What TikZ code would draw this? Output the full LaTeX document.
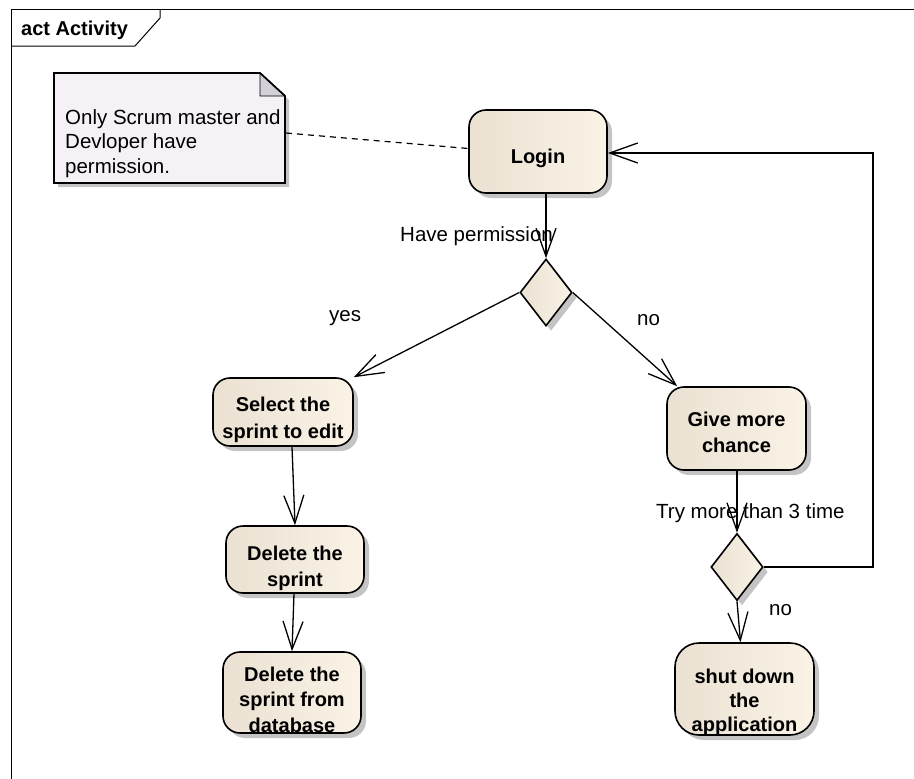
\documentclass[tikz,border=0pt]{standalone}
\usepackage{fontspec}
\setmainfont{Liberation Sans}
\usetikzlibrary{arrows.meta,shapes.geometric,shadows,calc}

\definecolor{actleft}{RGB}{234,225,210}
\definecolor{actright}{RGB}{250,243,230}
\definecolor{notefill}{RGB}{245,241,246}
\definecolor{foldfill}{RGB}{212,208,216}
\definecolor{shadowgray}{RGB}{196,196,196}

% lower a block of centred lines inside its node, keeping the node size
\newcommand\acttext[3]{\raisebox{-#1}[\height][\depth]{\fontsize{20}{#2}\selectfont\begin{tabular}{@{}c@{}}#3\end{tabular}}}

\tikzset{
  action/.style={rectangle, rounded corners=17pt, draw=black, line width=1.6pt,
    left color=actleft, right color=actright, inner sep=0pt,
    drop shadow={shadow xshift=5pt, shadow yshift=-5pt, fill=shadowgray, opacity=1},
    font=\bfseries},
  decision/.style={diamond, draw=black, line width=1.6pt, inner sep=0pt,
    left color=actleft, right color=actright,
    minimum width=52pt, minimum height=67pt,
    drop shadow={shadow xshift=5pt, shadow yshift=-5pt, fill=shadowgray, opacity=1}},
  flow/.style={line width=1.3pt, -{Straight Barb[length=28pt, width=20pt, line width=1.3pt]}},
  guard/.style={font=\fontsize{20.5}{24}\selectfont, inner sep=0pt, anchor=base west},
}

\begin{document}
\begin{tikzpicture}[x=1pt, y=-1pt]
\useasboundingbox (0,0) rectangle (914,779);

% diagram frame and its name tab
\draw[line width=1pt] (914,9) -- (11,9) -- (11,779);
\draw[line width=1pt] (11,46) -- (135,46) -- (160,18) -- (160,9);
\node[anchor=base west, inner sep=0pt, font=\fontsize{20}{24}\selectfont\bfseries] (title) at (21,35) {act Activity};

% comment note with folded corner
\fill[shadowgray] (58,77) -- (264,77) -- (289,100) -- (289,187) -- (58,187) -- cycle;
\draw[line width=1.6pt, fill=notefill] (54,73) -- (260,73) -- (285,96) -- (285,183) -- (54,183) -- cycle;
\draw[line width=0.8pt, fill=foldfill] (260,73) -- (260,96) -- (285,96) -- cycle;
\draw[line width=1.6pt] (260,73) -- (285,96);
\node[anchor=base west, inner sep=0pt, font=\fontsize{20.5}{24.5}\selectfont] (note) at (65,124.3)
  {\begin{tabular}[t]{@{}l@{}}Only Scrum master and\\Devloper have\\permission.\end{tabular}};
\coordinate (noteanchor) at (286,133);

% actions
\node[action, minimum width=138pt, minimum height=83pt] (login) at (538,151.5)
  {\acttext{6.9pt}{24}{Login}};
\node[action, minimum width=140pt, minimum height=68pt] (sel) at (283,412)
  {\acttext{7.7pt}{27.5}{Select the\\sprint to edit}};
\node[action, minimum width=138pt, minimum height=67pt] (dels) at (295,559.5)
  {\acttext{8.5pt}{26}{Delete the\\sprint}};
\node[action, minimum width=138pt, minimum height=81pt] (deldb) at (292,692.5)
  {\acttext{9.1pt}{25.5}{Delete the\\sprint from\\database}};
\node[action, minimum width=139pt, minimum height=83pt] (give) at (736.5,428.5)
  {\acttext{6.2pt}{26}{Give more\\chance}};
\node[action, rounded corners=24pt, minimum width=139pt, minimum height=92pt] (shut) at (744.5,689)
  {\acttext{13.9pt}{24}{shut down\\the\\application}};

% decisions
\node[decision] (d1) at (546,292.5) {};
\node[decision] (d2) at (737,567) {};

% loop-back corner
\coordinate (loopx) at (873,0);

% connectors
\draw[line width=1.2pt, dash pattern=on 6pt off 5pt] (noteanchor) -- ([yshift=3pt]login.west);
\draw[flow] (login.south -| d1.north) -- (d1.north);
\draw[flow] (d1.west) -- (sel.north east);
\draw[flow] (d1.east) -- ([xshift=11pt]give.north west);
\draw[flow] ([xshift=9pt]sel.south) -- (dels.north);
\draw[flow] ([xshift=-1pt]dels.south) -- (deldb.north);
\draw[flow] (give.south -| d2.north) -- (d2.north);
\draw[flow] (d2.south) -- ([xshift=-4pt]shut.north);
\draw[flow] (d2.east) -- (d2.east -| loopx) |- ([yshift=-1.5pt]login.east);

% guards
\node[guard] (lblperm) at (400,241.7) {Have permission};
\node[guard] (lblyes) at (329,321.7) {yes};
\node[guard] (lblno) at (637,325) {no};
\node[guard] (lbltry) at (656,518.3) {Try more than 3 time};
\node[guard] (lblno2) at (769,615.7) {no};
\end{tikzpicture}
\end{document}
